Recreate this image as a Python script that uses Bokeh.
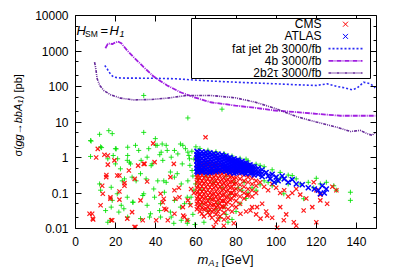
import math
from bokeh.plotting import figure
from bokeh.models import (Range1d, LinearAxis, LogAxis, FixedTicker, Label,
                          BoxAnnotation, Arrow, CustomJSTickFormatter)
from bokeh.embed import file_html
from bokeh.resources import INLINE

FONT = "Liberation Sans"

# ---------------- data ----------------
x_ticks = [0, 20, 40, 60, 80, 100, 120, 140]
y_ticks = [0.01, 0.1, 1, 10, 100, 1000, 10000]
y_minor = [0.02, 0.05, 0.2, 0.5, 2, 5, 20, 50, 200, 500, 2000, 5000]
x_lim = (0, 150)
y_lim = (0.01, 10000)

fatjet_x = [14.6, 16, 17.5, 19, 21, 25, 30, 40, 50, 57, 65, 80, 90, 100, 110, 120, 125.4, 130.4, 134, 137.8, 140.3, 143.6, 147, 149.4]
fatjet_y = [390, 300, 220, 185, 176, 172, 172, 170, 165, 155, 145, 132, 125, 119, 112, 107, 119, 100, 92, 81, 90, 132, 119, 92]

fourb_x = [14.9, 16.1, 17.2, 18.3, 19.5, 21.1, 22.8, 25.8, 29, 34, 39, 45.7, 52.3, 59, 67.3, 79.7, 89.7, 99.6, 110, 120, 132, 140, 149.4]
fourb_y = [1200, 1590, 1650, 1550, 1700, 1850, 1660, 1030, 670, 350, 190, 107, 69, 50, 36, 29, 25, 21, 19, 17, 15, 15, 15]

tautau_x = [9.5, 10, 10.8, 12.1, 14.1, 17.4, 22.4, 29, 37.4, 45.7, 55.7, 67.3, 79.7, 89.7, 99.6, 110.5, 120, 130.4, 137, 142, 145.3, 147.8, 149.4]
tautau_y = [485, 350, 165, 107, 77, 59, 47, 42, 43, 47, 56, 56, 48, 36, 24, 14, 10, 7.1, 5.4, 5.8, 4.7, 4.2, 5.1]

# CMS points (red x)
cms_x = [
    60.5, 60.5, 60.5, 60.5, 60.5, 60.5, 60.5, 60.5, 60.5, 60.5,
    62, 62, 62, 62, 62, 62, 62, 62, 62, 62,
    64, 64, 64, 64, 64, 64, 64, 64, 64, 64, 64,
    66, 66, 66, 66, 66, 66, 66, 66, 66, 66,
    68, 68, 68, 68, 68, 68, 68, 68, 68, 68, 68,
    70, 70, 70, 70, 70, 70, 70, 70, 70, 70, 70,
    72, 72, 72, 72, 72, 72, 72, 72, 72, 72,
    74, 74, 74, 74, 74, 74, 74, 74, 74, 74,
    76, 76, 76, 76, 76, 76, 76, 76, 76,
    78, 78, 78, 78, 78, 78, 78, 78,
    80, 80, 80, 80, 80, 80, 80,
    82, 82, 82, 82, 82, 82,
    84, 84, 84, 84, 84,
    86, 86, 86, 86,
    88, 88, 88, 88,
    90, 90, 90,
    61, 61, 61, 61, 61, 61, 61, 61, 61,
    63, 63, 63, 63, 63, 63, 63, 63, 63, 63,
    65, 65, 65, 65, 65, 65, 65, 65, 65,
    67, 67, 67, 67, 67, 67, 67, 67, 67, 67,
    69, 69, 69, 69, 69, 69, 69, 69, 69,
    71, 71, 71, 71, 71, 71, 71, 71, 71, 71,
    73, 73, 73, 73, 73, 73, 73, 73,
    75, 75, 75, 75, 75, 75, 75,
    77, 77, 77, 77, 77, 77,
    79, 79, 79, 79, 79,
    92, 94, 96, 98, 100, 102, 104, 106, 108, 110, 112, 115, 118.7, 120, 122, 125.4, 128, 130,
    85, 88, 90, 93, 95, 98, 100.5, 102, 105, 108.8, 110, 113.7, 118, 120,
    85.5, 90.5, 87.2, 95.5, 92.2, 82.2, 78.9, 73.9, 68.9, 64.8, 103.8, 122,
    10.3, 14.4, 16.1, 20.8, 15.4, 13.3, 12.5, 8.3, 8.8, 17.4, 21.9, 21.9, 24.4, 26.6, 29.5, 31.2,
    34, 38.7, 35.7, 32.4, 28.2, 29.9, 25.8, 18.3, 40.2, 42.4, 44, 45.2, 49.8, 51.5, 53.7, 55.7,
    57.3, 59, 49, 47.3, 11.1, 16.1, 19.4, 15.3, 21.9, 24.4, 34.4, 39.4, 13.6, 17.4, 7, 8.6,
    17.8, 29.4, 33.5, 43.5, 44.3, 49.3, 51.8, 53.5, 56, 57.6, 49.3, 46, 54.3,
]
cms_y = [
    0.9, 0.6, 0.4, 0.28, 0.2, 0.14, 0.1, 0.07, 0.05, 0.035,
    0.8, 0.55, 0.38, 0.26, 0.18, 0.13, 0.09, 0.065, 0.045, 0.03,
    0.85, 0.58, 0.4, 0.27, 0.19, 0.13, 0.095, 0.07, 0.05, 0.035, 0.022,
    0.7, 0.5, 0.35, 0.25, 0.17, 0.12, 0.085, 0.06, 0.04, 0.028,
    0.75, 0.52, 0.36, 0.25, 0.18, 0.125, 0.09, 0.065, 0.045, 0.03, 0.02,
    0.65, 0.45, 0.32, 0.22, 0.16, 0.11, 0.08, 0.055, 0.04, 0.025, 0.015,
    0.6, 0.42, 0.3, 0.21, 0.15, 0.1, 0.07, 0.05, 0.035, 0.022,
    0.55, 0.38, 0.27, 0.19, 0.13, 0.09, 0.06, 0.04, 0.028, 0.018,
    0.5, 0.35, 0.24, 0.17, 0.12, 0.08, 0.055, 0.035, 0.02,
    0.45, 0.3, 0.21, 0.15, 0.1, 0.07, 0.045, 0.03,
    0.4, 0.27, 0.19, 0.13, 0.09, 0.06, 0.04,
    0.35, 0.25, 0.17, 0.12, 0.08, 0.05,
    0.32, 0.22, 0.15, 0.1, 0.07,
    0.28, 0.2, 0.13, 0.09,
    0.26, 0.18, 0.12, 0.08,
    0.22, 0.16, 0.1,
    0.7, 0.48, 0.33, 0.23, 0.16, 0.11, 0.08, 0.058, 0.04,
    0.68, 0.46, 0.32, 0.22, 0.155, 0.11, 0.078, 0.055, 0.038, 0.026,
    0.65, 0.45, 0.31, 0.21, 0.15, 0.105, 0.075, 0.052, 0.036,
    0.62, 0.43, 0.3, 0.2, 0.145, 0.1, 0.072, 0.05, 0.034, 0.024,
    0.58, 0.4, 0.28, 0.19, 0.14, 0.095, 0.068, 0.047, 0.033,
    0.55, 0.38, 0.26, 0.18, 0.13, 0.09, 0.064, 0.044, 0.03, 0.018,
    0.5, 0.35, 0.24, 0.17, 0.12, 0.085, 0.06, 0.042,
    0.45, 0.32, 0.22, 0.155, 0.11, 0.075, 0.05,
    0.4, 0.28, 0.2, 0.14, 0.1, 0.065,
    0.36, 0.25, 0.18, 0.12, 0.085,
    0.2, 0.15, 0.12, 0.18, 0.14, 0.1, 0.12, 0.08, 0.1, 0.13, 0.09, 0.07, 0.2, 0.12, 0.09, 0.05, 0.15, 0.12,
    0.03, 0.04, 0.025, 0.05, 0.03, 0.02, 0.0105, 0.04, 0.025, 0.015, 0.012, 0.032, 0.04, 0.015,
    0.085, 0.04, 0.032, 0.023, 0.019, 0.026, 0.014, 0.012, 0.011, 3.7, 0.017, 0.062,
    1.0, 1.2, 0.63, 0.31, 0.32, 0.16, 0.045, 0.026, 0.018, 0.076, 0.11, 0.065, 0.19, 0.43, 0.25, 0.59,
    0.66, 2.5, 0.21, 0.062, 0.029, 0.011, 0.019, 0.017, 0.017, 0.095, 0.069, 0.034, 0.069, 0.14, 0.023, 0.017,
    0.045, 0.1, 0.66, 0.28, 1.75, 1.14, 0.83, 0.28, 0.31, 0.16, 0.66, 0.74, 0.095, 0.069, 0.026, 0.019,
    0.017, 0.011, 0.017, 0.055, 0.036, 0.12, 0.076, 0.04, 0.062, 0.13, 0.026, 0.017, 0.021,
]

# ATLAS points (blue x)
atlas_x = [
    60.5, 60.5, 60.5, 60.5, 60.5, 60.5, 60.5,
    61, 61, 61, 61, 61, 61, 61,
    63, 63, 63, 63, 63, 63, 63,
    65, 65, 65, 65, 65, 65, 65,
    67, 67, 67, 67, 67, 67, 67,
    69, 69, 69, 69, 69, 69,
    71, 71, 71, 71, 71, 71,
    73, 73, 73, 73, 73, 73,
    75, 75, 75, 75, 75, 75,
    77, 77, 77, 77, 77, 77,
    79, 79, 79, 79, 79, 79,
    81, 81, 81, 81, 81,
    83, 83, 83, 83, 83,
    85, 85, 85, 85, 85,
    87, 87, 87, 87,
    89, 89, 89, 89,
    91, 91, 91,
    93, 93, 93,
    62, 62, 62, 62, 62, 62,
    64, 64, 64, 64, 64, 64,
    66, 66, 66, 66, 66, 66,
    68, 68, 68, 68, 68, 68,
    70, 70, 70, 70, 70, 70,
    72, 72, 72, 72, 72,
    74, 74, 74, 74, 74,
    76, 76, 76, 76, 76,
    78, 78, 78, 78, 78,
    80, 80, 80, 80, 80,
    82, 82, 82, 82,
    84, 84, 84, 84,
    86, 86, 86,
    88, 88, 88,
    95, 96, 98, 100, 101, 103, 104, 106, 108, 110, 113, 116, 119, 121, 122, 123, 124, 125, 97, 99,
]
atlas_y = [
    1.5, 1.2, 1.0, 0.8, 0.62, 0.5, 0.41,
    1.4, 1.1, 0.9, 0.7, 0.55, 0.45, 0.38,
    1.45, 1.2, 0.95, 0.75, 0.6, 0.48, 0.4,
    1.4, 1.15, 0.9, 0.72, 0.58, 0.46, 0.37,
    1.35, 1.1, 0.88, 0.7, 0.56, 0.45, 0.38,
    1.3, 1.05, 0.85, 0.68, 0.55, 0.44,
    1.25, 1.0, 0.82, 0.66, 0.53, 0.43,
    1.2, 0.98, 0.8, 0.64, 0.52, 0.42,
    1.1, 0.92, 0.75, 0.6, 0.5, 0.41,
    1.0, 0.85, 0.7, 0.57, 0.47, 0.38,
    0.92, 0.78, 0.65, 0.54, 0.44, 0.36,
    0.85, 0.72, 0.6, 0.5, 0.42,
    0.78, 0.66, 0.55, 0.46, 0.38,
    0.7, 0.6, 0.5, 0.42, 0.35,
    0.62, 0.52, 0.44, 0.36,
    0.55, 0.46, 0.38, 0.32,
    0.5, 0.4, 0.33,
    0.45, 0.36, 0.29,
    1.3, 1.05, 0.85, 0.68, 0.53, 0.43,
    1.3, 1.05, 0.82, 0.66, 0.52, 0.42,
    1.25, 1.0, 0.8, 0.64, 0.5, 0.41,
    1.2, 0.97, 0.78, 0.62, 0.5, 0.4,
    1.15, 0.93, 0.75, 0.6, 0.48, 0.4,
    1.1, 0.9, 0.72, 0.58, 0.47,
    1.05, 0.85, 0.68, 0.56, 0.45,
    0.95, 0.8, 0.65, 0.53, 0.43,
    0.88, 0.74, 0.6, 0.5, 0.41,
    0.82, 0.68, 0.56, 0.46, 0.38,
    0.74, 0.62, 0.51, 0.42,
    0.68, 0.57, 0.47, 0.39,
    0.6, 0.5, 0.42,
    0.55, 0.45, 0.37,
    0.38, 0.3, 0.34, 0.28, 0.22, 0.3, 0.25, 0.2, 0.24, 0.18, 0.17, 0.14, 0.13, 0.12, 0.095, 0.16, 0.1, 0.13, 0.25, 0.2,
]

# Other scan points (green +)
other_x = [
    34, 56, 34, 16.6, 18.3, 12, 7.5, 39.8, 73,
    7.8, 7.5, 12.5, 13, 12, 12.5, 19.9, 18.8, 16.1, 19.9, 22.4, 29.9, 31.5, 25.8, 27.4, 36.5,
    35.7, 40.7, 43.2, 42, 45.7, 38.2, 32.4, 28.2, 23.3, 20.8, 18.3, 15, 17.4, 24.1, 28.7, 34,
    39, 44, 47.3, 50.7, 53.2, 54.8, 52.3, 56.5, 58.1, 59.8, 55.7, 52.3, 47.3, 42.4, 37.4, 32.4,
    49, 55.7, 35.7, 42.4, 25.8, 21.6,
    20.3, 26, 40, 45.2, 49.3, 53.5, 42.7, 26, 21, 26.9, 32.7, 37.7, 43.5, 47.7, 51, 56, 56.8,
    17.8, 24.4, 30.2, 35.2, 41, 45.2, 49.3, 52.7, 56, 44.3, 39.4, 33.5, 28.5, 22.8, 17.8, 49.3,
    54.3, 57.6, 41.9, 36.9, 47.7, 52.7, 56, 26, 16.1,
    60, 62, 58, 59, 57, 58.5, 59, 57, 58.5, 59.5,
    63, 66, 70, 72, 64, 75, 78, 80, 82, 85, 83, 86, 88, 90, 92, 94, 96, 98, 100, 102, 103.8,
    106, 108, 110, 112, 113.7, 116, 118.7, 120, 122, 125, 128.7, 130, 137, 137,
    66, 70, 74, 78, 82, 86, 90, 94, 98, 102, 106, 85, 92,
    61, 63, 65, 67, 69, 71, 73, 75, 77, 79, 81, 84, 62, 68, 74, 76,
]
other_y = [
    56, 13, 5.1, 5.7, 4.7, 4.5, 3.0, 3.4, 23,
    2.9, 1.07, 2.0, 1.9, 0.18, 0.12, 1.77, 1.14, 0.92, 0.66, 0.48, 2.2, 1.58, 0.83, 0.66, 1.77,
    1.02, 2.2, 2.4, 1.2, 1.58, 0.66, 0.35, 0.28, 0.22, 0.095, 0.062, 0.032, 0.017, 0.036, 0.055, 0.095,
    0.13, 0.22, 0.39, 0.35, 0.66, 1.77, 2.4, 1.14, 0.43, 0.18, 0.076, 0.04, 0.029, 0.021, 0.026, 0.019,
    0.014, 0.014, 0.045, 0.05, 0.076, 0.029,
    1.75, 1.95, 2.2, 2.2, 1.58, 2.2, 1.41, 1.14, 0.92, 0.74, 0.83, 0.59, 0.83, 1.02, 1.26, 1.41, 0.92,
    0.145, 0.25, 0.22, 0.25, 0.22, 0.2, 0.28, 0.18, 0.22, 0.105, 0.076, 0.085, 0.055, 0.045, 0.04, 0.062,
    0.05, 0.076, 0.032, 0.021, 0.021, 0.017, 0.017, 0.021, 0.015,
    2.0, 1.8, 1.5, 0.9, 0.6, 0.3, 0.12, 0.05, 0.025, 0.013,
    0.05, 0.03, 0.035, 0.02, 0.015, 0.025, 0.018, 0.03, 0.05, 0.07, 0.12, 0.1, 0.14, 0.12, 0.17, 0.22, 0.2, 0.16, 0.2, 0.26, 0.095,
    0.18, 0.31, 0.25, 0.18, 0.069, 0.2, 0.14, 0.26, 0.18, 0.2, 0.16, 0.12, 0.105, 0.062,
    1.6, 1.45, 1.3, 1.1, 0.95, 0.8, 0.65, 0.55, 0.45, 0.38, 0.32, 0.9, 0.6,
    0.25, 0.12, 0.3, 0.07, 0.2, 0.05, 0.14, 0.3, 0.09, 0.2, 0.14, 0.2, 0.6, 0.45, 0.04, 0.015,
]

legend_labels = ["CMS", "ATLAS", "fat jet 2b 3000/fb", "4b 3000/fb", "2b2\u03c4 3000/fb"]

RED = "#ff0000"
BLUE = "#0000ff"
GREEN = "#00e000"
C_FAT = "#2a2af5"
C_4B = "#a01ee0"
C_TT = "#662a99"

# ---------------- geometry (page pixels) ----------------
W, H = 396, 277
BOX_L, BOX_R, BOX_T, BOX_B = 75, 376, 15, 228

# ranges chosen so that the data box [0,150]x[0.01,1e4] lands on the box above
xs_per_px = (x_lim[1] - x_lim[0]) / (BOX_R - BOX_L)
x_lo = x_lim[0] - BOX_L * xs_per_px
x_hi = x_lim[1] + (W - BOX_R) * xs_per_px
dec_per_px = (math.log10(y_lim[1]) - math.log10(y_lim[0])) / (BOX_B - BOX_T)
y_hi = 10 ** (math.log10(y_lim[1]) + BOX_T * dec_per_px)
y_lo = 10 ** (math.log10(y_lim[0]) - (H - BOX_B) * dec_per_px)

p = figure(width=W, height=H, min_border=0,
           x_range=Range1d(x_lo, x_hi), y_range=Range1d(y_lo, y_hi), y_axis_type="log",
           output_backend="svg", toolbar_location=None)
p.background_fill_color = "white"
p.border_fill_color = "white"
p.outline_line_color = None
p.xgrid.visible = False
p.ygrid.visible = False

p.xaxis[0].fixed_location = y_lim[0]
p.yaxis[0].fixed_location = x_lim[0]
p.add_layout(LinearAxis(fixed_location=y_lim[1]), "above")
p.add_layout(LogAxis(fixed_location=x_lim[1]), "right")

for ax in p.xaxis:
    ax.ticker = FixedTicker(ticks=x_ticks, minor_ticks=[])
    ax.bounds = x_lim
for ax in p.yaxis:
    ax.ticker = FixedTicker(ticks=y_ticks, minor_ticks=y_minor)
    ax.bounds = y_lim
for ax in p.xaxis + p.yaxis:
    ax.major_tick_in = 6
    ax.major_tick_out = 0
    ax.minor_tick_in = 3
    ax.minor_tick_out = 0
    ax.axis_line_color = "black"
    ax.major_tick_line_color = "black"
    ax.minor_tick_line_color = "black"
    ax.major_label_text_font = FONT
    ax.major_label_text_font_size = "12px"
    ax.major_label_text_color = "black"

p.below[0].major_label_standoff = 8
p.left[0].major_label_standoff = 7
p.left[0].formatter = CustomJSTickFormatter(code="return tick.toString();")
for ax in (p.above[0], p.right[0]):
    ax.formatter = CustomJSTickFormatter(code="return '';")
    ax.major_label_text_font_size = "1px"
    ax.major_label_standoff = 0

# scatter points
p.scatter(other_x, other_y, marker="cross", size=5, line_color=GREEN, line_width=1, line_alpha=0.85)
p.scatter(cms_x, cms_y, marker="x", size=6, line_color=RED, line_width=1.2, line_alpha=0.9)
p.scatter(atlas_x, atlas_y, marker="x", size=7, line_color=BLUE, line_width=1.5)

# curves
p.line(fatjet_x, fatjet_y, line_color=C_FAT, line_width=1.6, line_dash="2 2")
p.line(fourb_x, fourb_y, line_color=C_4B, line_width=1.8, line_dash="5 1 1 1")
p.line(tautau_x, tautau_y, line_color=C_TT, line_width=1.6, line_dash="3 1 1 1 1 1")


# ---------------- annotations (page px -> screen units of the full frame) ----------------
def sx(X):
    return X


def sy(Y):
    return H - Y


def lab(X, Y, text, size=12, style="normal", align="left", baseline="alphabetic", angle=0, color="black"):
    p.add_layout(Label(x=sx(X), y=sy(Y), x_units="screen", y_units="screen", text=text,
                       text_font=FONT, text_font_size=f"{size}px", text_font_style=style,
                       text_align=align, text_baseline=baseline, angle=angle, text_color=color))


def seg(X0, Y0, X1, Y1, color, width=1.0, dash="solid"):
    p.add_layout(Arrow(x_start=sx(X0), y_start=sy(Y0), x_end=sx(X1), y_end=sy(Y1),
                       start_units="screen", end_units="screen", start=None, end=None,
                       line_color=color, line_width=width, line_dash=dash))


# legend box
p.add_layout(BoxAnnotation(left=sx(191), right=sx(370), top=sy(18), bottom=sy(78),
                           left_units="screen", right_units="screen", top_units="screen", bottom_units="screen",
                           fill_color="white", fill_alpha=1.0, line_color="black", line_width=1, line_alpha=1.0))
rows = [23.7, 35.9, 48.1, 60.3, 72.5]
for Y, t in zip(rows, legend_labels):
    lab(321, Y, t, size=12, align="right", baseline="middle")
for Y, c in ((rows[0], RED), (rows[1], BLUE)):
    seg(342.5, Y - 2.5, 347.5, Y + 2.5, c)
    seg(342.5, Y + 2.5, 347.5, Y - 2.5, c)
seg(328, rows[2], 362, rows[2], C_FAT, 1.6, "2 2")
seg(328, rows[3], 362, rows[3], C_4B, 1.8, "5 1 1 1")
seg(328, rows[4], 362, rows[4], C_TT, 1.6, "3 1 1 1 1 1")

# title H_SM = H_1
lab(76, 30, "H", size=13, style="italic")
lab(84.5, 33, "SM", size=8.5)
lab(100, 30, "=", size=13)
lab(109, 30, "H", size=13, style="italic")
lab(119, 33, "1", size=9, style="italic")

# x axis label m_{A_1} [GeV]
lab(197, 259, "m", size=13, style="italic")
lab(208, 262, "A", size=9, style="italic")
lab(214.5, 264, "1", size=7, style="italic")
lab(221, 259, "[GeV]", size=12.5)

# y axis label (rotated, reads upward)
ypieces = [("\u03c3(", "normal", 11, 0, 10.0), ("gg", "italic", 11, 0, 12.2), ("\u2192", "normal", 11, 0, 11.0),
           ("bbA", "italic", 11, 0, 19.6), ("1", "italic", 8, 3, 4.5), (") [pb]", "normal", 11, 0, 25.0)]
Ycur = 156.0
for t, st, sz, shift, w in ypieces:
    lab(17 + shift, Ycur, t, size=sz, style=st, angle=math.pi / 2)
    Ycur -= w

open("out.html", "w").write(file_html(p, INLINE))
